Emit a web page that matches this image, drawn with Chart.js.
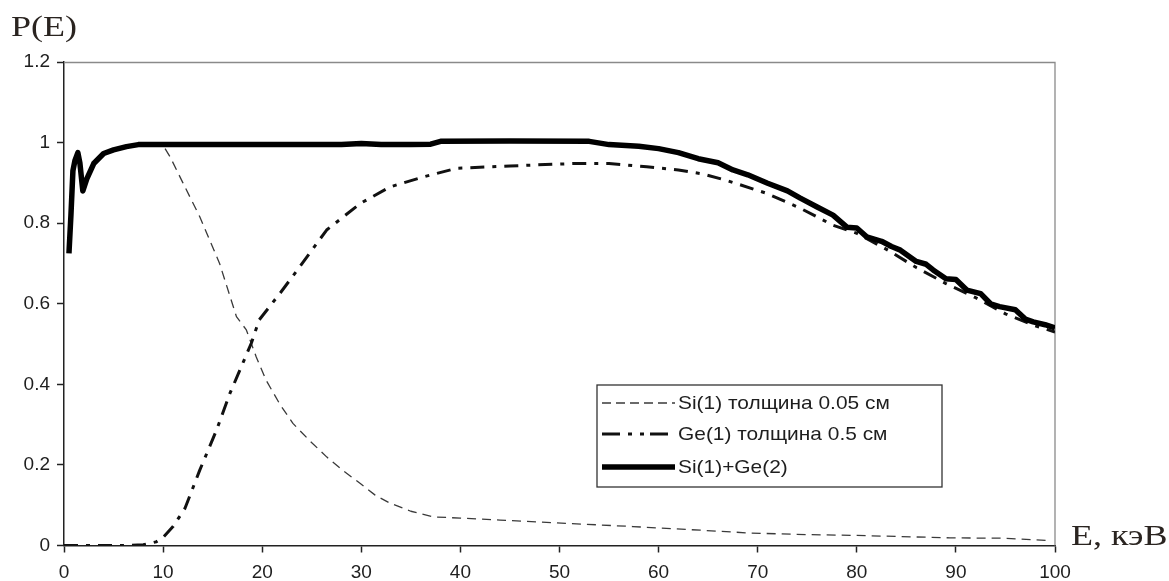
<!DOCTYPE html>
<html>
<head>
<meta charset="utf-8">
<script src="https://cdn.jsdelivr.net/npm/chart.js@4.4.1/dist/chart.umd.min.js"></script>
<style>
  html, body { margin: 0; padding: 0; background: #fff; }
  #wrap { position: relative; width: 1169px; height: 581px; }
</style>
</head>
<body>
<div id="wrap"><canvas id="chart_pe"></canvas></div>
<script>
// Si(1), 0.05 cm
var siE = [10.2, 10.7, 12, 13.7, 15.7, 17.4, 18.4, 19.4, 20.4, 21.8, 23.1, 24.8, 26.5, 28.2, 29.9, 31.4, 32.9, 35, 37.3, 40, 44, 50.7, 57.4, 64.2, 69.2, 75, 80, 89.4, 95, 99.5];
var siP = [0.985, 0.965, 0.9, 0.816, 0.70, 0.568, 0.535, 0.468, 0.41, 0.35, 0.303, 0.26, 0.22, 0.185, 0.154, 0.125, 0.105, 0.085, 0.071, 0.068, 0.063, 0.055, 0.047, 0.038, 0.031, 0.027, 0.025, 0.019, 0.018, 0.012];

// Ge(1), 0.5 cm
var geE = [0, 3, 6, 8, 9.3, 10, 11, 12.2, 13.7, 15.4, 16.75, 18, 18.9, 19.7, 21.8, 23.8, 26.5, 29.9, 32.9, 36.3, 39.6, 45, 51.4, 55, 58.8, 62, 64.5, 67, 70.9, 74.3, 77.6, 80, 83, 86, 89, 92, 95, 98, 100];
var geP = [0, 0, 0, 0.002, 0.009, 0.02, 0.047, 0.092, 0.187, 0.287, 0.378, 0.45, 0.502, 0.56, 0.626, 0.692, 0.783, 0.849, 0.89, 0.915, 0.936, 0.942, 0.948, 0.948, 0.94, 0.932, 0.922, 0.905, 0.874, 0.837, 0.795, 0.775, 0.735, 0.69, 0.65, 0.615, 0.575, 0.545, 0.53];

// Si(1)+Ge(2)
var sumE = [0.5, 0.7, 0.9, 1.1, 1.4, 1.6, 1.9, 2.3, 3.0, 4.0, 5.0, 6.3, 7.5, 10, 15, 20, 25, 28, 30, 32, 35, 37, 38, 45, 53, 55, 58, 60, 62, 64, 66, 67.5, 69, 71, 73, 74.3, 76, 77.6, 79, 80, 81, 82.5, 83.5, 84.4, 86, 87, 87.7, 89, 90, 91.1, 92.5, 93.5, 94.4, 96, 97, 97.8, 99, 100];
var sumP = [0.725, 0.82, 0.93, 0.955, 0.975, 0.95, 0.88, 0.91, 0.948, 0.973, 0.982, 0.99, 0.995, 0.995, 0.995, 0.995, 0.995, 0.995, 0.998, 0.995, 0.995, 0.996, 1.003, 1.004, 1.003, 0.995, 0.991, 0.985, 0.975, 0.96, 0.95, 0.932, 0.92, 0.899, 0.88, 0.862, 0.84, 0.82, 0.79, 0.788, 0.766, 0.755, 0.742, 0.733, 0.705, 0.698, 0.684, 0.662, 0.66, 0.634, 0.625, 0.6, 0.593, 0.585, 0.562, 0.555, 0.548, 0.54];

var xTicks = [0, 10, 20, 30, 40, 50, 60, 70, 80, 90, 100];
var yTicks = [0, 0.2, 0.4, 0.6, 0.8, 1, 1.2];

var legendLabels = ['Si(1) толщина 0.05 см', 'Ge(1) толщина 0.5 см', 'Si(1)+Ge(2)'];
var yTitle = 'P(E)';
var xTitle = 'E, кэВ';

function pairs(xs, ys) {
    return xs.map(function (x, i) { return { x: x, y: ys[i] }; });
}

var inkColor = '#1e1e1e';
var sansFont = '"Liberation Sans", Arial, sans-serif';

// frame, axis titles and the boxed legend
var decorPlugin = {
    id: 'decor',
    beforeDatasetsDraw: function (chart) {
        var a = chart.chartArea, ctx = chart.ctx;
        ctx.save();
        ctx.strokeStyle = '#8a8a8a';
        ctx.lineWidth = 1.3;
        ctx.beginPath();
        ctx.moveTo(a.left, a.top + 0.5);
        ctx.lineTo(a.right, a.top + 0.5);
        ctx.lineTo(a.right, a.bottom);
        ctx.stroke();
        ctx.restore();
    },
    afterDraw: function (chart) {
        var ctx = chart.ctx;
        ctx.save();
        ctx.fillStyle = '#2a2420';
        ctx.font = '30px "Liberation Serif", "Times New Roman", serif';
        ctx.textBaseline = 'alphabetic';
        ctx.save();
        ctx.translate(11, 36);
        ctx.scale(1.2, 1);
        ctx.fillText(yTitle, 0, 0);
        ctx.restore();
        ctx.save();
        ctx.translate(1071, 545);
        ctx.scale(1.2, 1);
        ctx.fillText(xTitle, 0, 0);
        ctx.restore();

        // legend
        var bx = 597, by = 385, bw = 345, bh = 102;
        ctx.fillStyle = '#fff';
        ctx.fillRect(bx, by, bw, bh);
        ctx.strokeStyle = '#333';
        ctx.lineWidth = 1.3;
        ctx.strokeRect(bx, by, bw, bh);
        var rows = [403, 434, 467];
        ctx.font = '19px ' + sansFont;
        ctx.textBaseline = 'middle';
        chart.data.datasets.forEach(function (ds, i) {
            ctx.save();
            ctx.strokeStyle = ds.borderColor;
            ctx.lineWidth = ds.borderWidth;
            ctx.setLineDash(ds.legendDash || ds.borderDash || []);
            ctx.beginPath();
            ctx.moveTo(602, rows[i]);
            ctx.lineTo(675, rows[i]);
            ctx.stroke();
            ctx.restore();
            ctx.save();
            ctx.fillStyle = inkColor;
            ctx.translate(678, rows[i] + 1);
            ctx.scale(1.1, 1);
            ctx.fillText(legendLabels[i], 0, 0);
            ctx.restore();
        });
        ctx.restore();
    }
};

var ctx = document.getElementById('chart_pe');
var peChart = new Chart(ctx, {
    type: 'line',
    data: {
        datasets: [
            {
                label: legendLabels[0],
                data: pairs(siE, siP),
                borderColor: '#3a3a3a',
                borderWidth: 1.3,
                borderDash: [9, 6],
                legendDash: [9, 5],
                order: 2
            },
            {
                label: legendLabels[1],
                data: pairs(geE, geP),
                borderColor: '#111',
                borderWidth: 3,
                borderDash: [14, 8, 4, 8],
                legendDash: [18, 8, 4, 8, 4, 6],
                order: 1
            },
            {
                label: legendLabels[2],
                data: pairs(sumE, sumP),
                borderColor: '#000',
                borderWidth: 5.5,
                order: 0
            }
        ]
    },
    options: {
        responsive: true,
        maintainAspectRatio: false,
        animation: false,
        events: [],
        layout: { padding: { top: 62, right: 114, left: 0, bottom: 0 } },
        elements: {
            point: { radius: 0 },
            line: { tension: 0, borderCapStyle: 'butt', borderJoinStyle: 'round' }
        },
        plugins: {
            legend: { display: false },
            tooltip: { enabled: false }
        },
        scales: {
            x: {
                type: 'linear',
                min: 0,
                max: 100,
                afterFit: function (s) { s.height = 35.5; },
                afterBuildTicks: function (s) { s.ticks = xTicks.map(function (v) { return { value: v }; }); },
                border: { color: '#222', width: 1.5 },
                grid: { drawOnChartArea: false, tickLength: 7, color: '#222', tickWidth: 1.5 },
                ticks: {
                    color: inkColor,
                    padding: 9,
                    maxRotation: 0,
                    font: { family: sansFont, size: 19 }
                }
            },
            y: {
                min: 0,
                max: 1.2,
                afterFit: function (s) { s.width = 64; },
                afterBuildTicks: function (s) { s.ticks = yTicks.map(function (v) { return { value: v }; }); },
                border: { color: '#222', width: 1.5 },
                grid: { drawOnChartArea: false, tickLength: 7, color: '#222', tickWidth: 1.5 },
                ticks: {
                    color: inkColor,
                    padding: 7,
                    font: { family: sansFont, size: 19 },
                    callback: function (v) { return String(Math.round(v * 10) / 10); }
                }
            }
        }
    },
    plugins: [decorPlugin]
});
</script>
</body>
</html>
